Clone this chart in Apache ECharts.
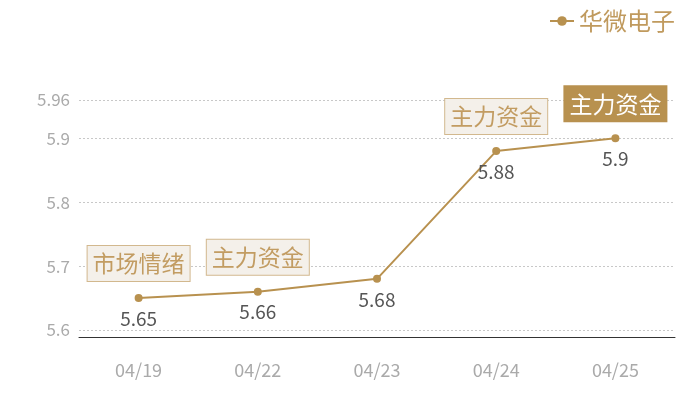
<!DOCTYPE html>
<html>
<head>
<meta charset="utf-8">
<script src="https://cdn.jsdelivr.net/npm/echarts@6/dist/echarts.min.js"></script>
<style>html,body{margin:0;padding:0;background:#fff}#c{width:700px;height:400px}</style>
</head>
<body>
<div id="c"></div>
<script>
const categories = ['04/19', '04/22', '04/23', '04/24', '04/25'];
const prices = [5.65, 5.66, 5.68, 5.88, 5.9];
const tags = ['市场情绪', '主力资金', '', '主力资金', '主力资金'];
const highlighted = [false, false, false, false, true];
const seriesName = '华微电子';
const yMin = 5.589;
const yMax = 5.96;

const gold = '#b8914f';
const font = '"Noto Sans CJK SC", "Noto Sans", sans-serif';

const markData = [];
categories.forEach(function (c, i) {
  if (!tags[i]) return;
  const hi = highlighted[i];
  markData.push({
    coord: [c, prices[i]],
    value: tags[i],
    label: {
      show: true,
      position: 'top',
      distance: 17,
      formatter: tags[i],
      fontFamily: font,
      fontSize: 23,
      lineHeight: 25,
      color: hi ? '#ffffff' : '#c29c62',
      backgroundColor: hi ? gold : '#f4f0ea',
      borderColor: hi ? gold : '#d2b88e',
      borderWidth: 1,
      padding: [5, 5, 5, 5]
    }
  });
});

const chart = echarts.init(document.getElementById('c'));
chart.setOption({
  animation: false,
  textStyle: { fontFamily: font },
  legend: {
    right: 20,
    top: 4,
    itemWidth: 24,
    itemHeight: 12,
    itemGap: 6,
    textStyle: { fontSize: 24, color: '#c09a5e', fontFamily: font },
    data: [seriesName]
  },
  grid: { left: 79, right: 25, top: 100, bottom: 63 },
  xAxis: {
    type: 'category',
    data: categories,
    boundaryGap: true,
    axisLine: { lineStyle: { color: '#333', width: 1 } },
    axisTick: { show: false },
    axisLabel: { color: '#aaaaaa', fontSize: 18, margin: 24, fontFamily: font }
  },
  yAxis: {
    type: 'value',
    min: yMin,
    max: yMax,
    axisLine: { show: false },
    axisTick: { show: false },
    axisLabel: { color: '#aaaaaa', fontSize: 17, margin: 9, showMinLabel: false, fontFamily: font },
    splitLine: { lineStyle: { color: '#c8c8c8', type: [2, 2], width: 1 } }
  },
  series: [{
    name: seriesName,
    type: 'line',
    data: prices,
    symbol: 'circle',
    symbolSize: 8,
    itemStyle: { color: gold },
    lineStyle: { color: gold, width: 2 },
    label: {
      show: true,
      position: 'bottom',
      distance: 7,
      color: '#555',
      fontSize: 19,
      fontFamily: font
    },
    markPoint: {
      symbol: 'circle',
      symbolSize: 0,
      itemStyle: { color: 'transparent' },
      data: markData
    }
  }]
});
</script>
</body>
</html>
